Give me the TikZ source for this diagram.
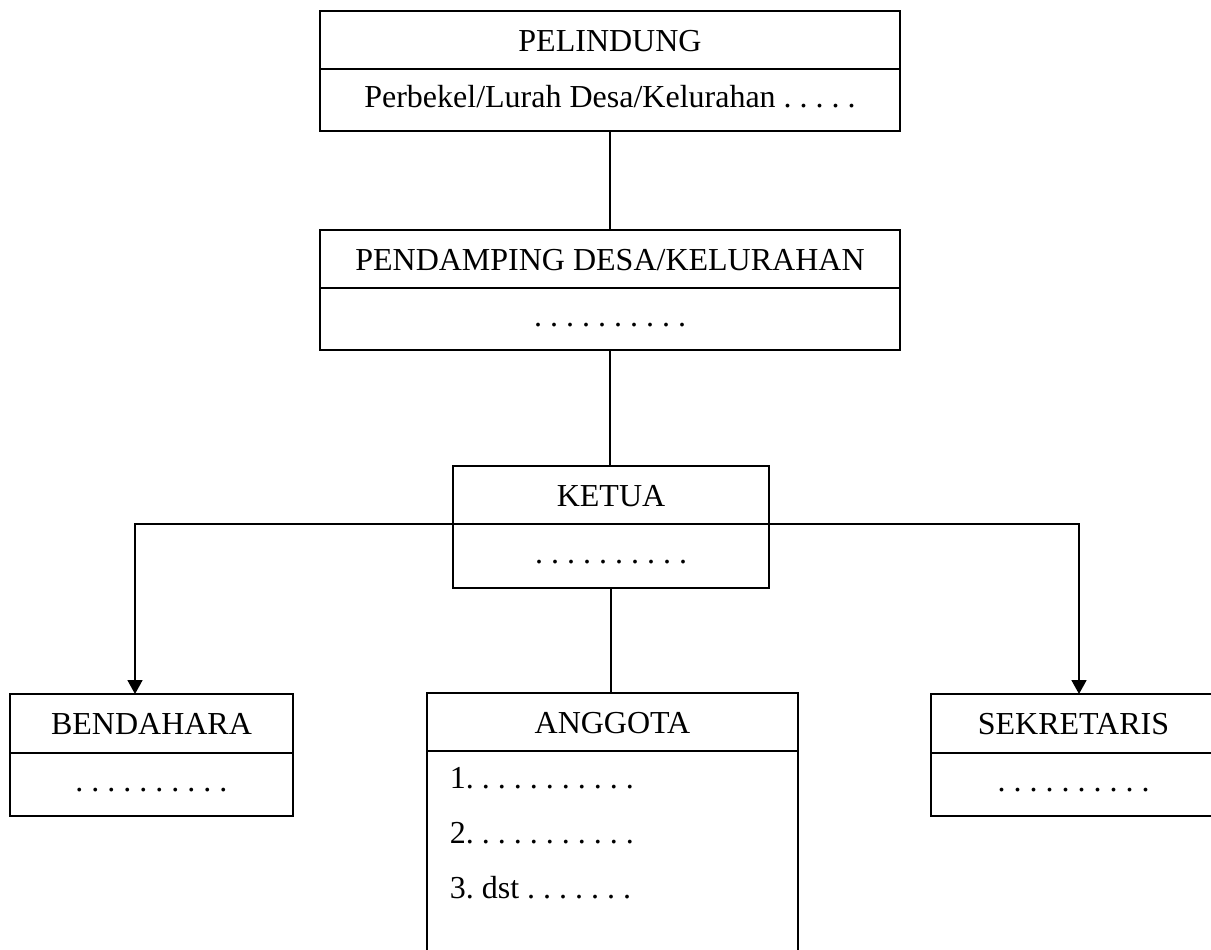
\documentclass[tikz,border=0pt]{standalone}
\usepackage{fontspec}
\setmainfont{Liberation Serif}
\usetikzlibrary{positioning,arrows.meta}
\begin{document}
\frenchspacing
\begin{tikzpicture}[x=0.5pt,y=-0.5pt,line width=0.9pt,
        cell/.style={draw,outer sep=0pt,inner sep=0pt,font=\fontsize{16}{19}\selectfont,
            text height=0.78em,text depth=0.08em},
        head/.style={cell,text height=1.12em,text depth=0em},
        item/.style={inner sep=0pt,font=\fontsize{16}{19}\selectfont},
        arr/.style={-{Triangle[width=7.5pt,length=7pt]}}]
            \useasboundingbox (0,0) rectangle (1211,949);
            \clip (0,0) rectangle (1211,949);
            % pelindung
            \node[head,minimum width=290pt,minimum height=29pt] (pelhead) at (610,40) {PELINDUNG};
            \node[cell,minimum width=290pt,minimum height=31pt,below=0pt of pelhead] (pelbody) {Perbekel/Lurah Desa/Kelurahan . . . . .};
            % pendamping
            \node[head,minimum width=290pt,minimum height=29pt] (pendhead) at (610,259) {PENDAMPING DESA/KELURAHAN};
            \node[cell,minimum width=290pt,minimum height=31pt,below=0pt of pendhead] (pendbody) {. . . . . . . . . .};
            % ketua
            \node[head,minimum width=158pt,minimum height=29pt] (kethead) at (611,495) {KETUA};
            \node[cell,minimum width=158pt,minimum height=32pt,below=0pt of kethead] (ketbody) {. . . . . . . . . .};
            % bendahara, anggota, sekretaris
            \node[head,minimum width=141.5pt,minimum height=29.5pt] (benhead) at (151.5,723.5) {BENDAHARA};
            \node[cell,minimum width=141.5pt,minimum height=31.5pt,below=0pt of benhead] (benbody) {. . . . . . . . . .};
            \node[head,minimum width=185.5pt,minimum height=29pt] (anghead) at (612.5,722) {ANGGOTA};
            \node[head,minimum width=142.5pt,minimum height=29.5pt] (sekhead) at (1073.5,723.5) {SEKRETARIS};
            \node[cell,minimum width=142.5pt,minimum height=31.5pt,below=0pt of sekhead] (sekbody) {. . . . . . . . . .};
            \draw (anghead.south west) -- ++(0,230);
            \draw (anghead.south east) -- ++(0,230);
            \node[item,anchor=base west] (ang1) at (449,788) {1. . . . . . . . . . .};
            \node[item,anchor=base west] (ang2) at (449,843) {2. . . . . . . . . . .};
            \node[item,anchor=base west] (ang3) at (449,898) {3. dst . . . . . . .};
            % garis
            \draw (pelbody.south) -- (pendhead.north);
            \draw (pendbody.south) -- (pendbody.south |- kethead.north);
            \draw (ketbody.south) -- (ketbody.south |- anghead.north);
            \draw[arr] (kethead.south west) -| ([xshift=-8.25pt]benhead.north);
            \draw[arr] (kethead.south east) -| ([xshift=2.75pt]sekhead.north);
        \end{tikzpicture}
\end{document}
